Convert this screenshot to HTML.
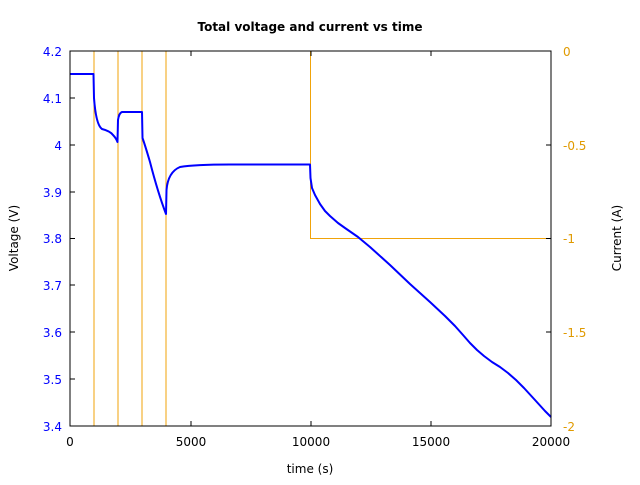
<!DOCTYPE html><html><head><style>body{margin:0;background:#fff}text{font-family:"DejaVu Sans","Liberation Sans",sans-serif;font-size:12px}</style></head><body>
<svg width="640" height="480" xmlns="http://www.w3.org/2000/svg">
<text x="310" y="31" text-anchor="middle" font-weight="bold">Total voltage and current vs time</text>
<g fill="none" stroke="#f0a30a" stroke-width="1">
<polyline points="70,51 94,51 94,426 94,51 118,51 118,426 118,51 142,51 142,426 142,51 166,51 166,426 166,51 310.5,51 310.5,238.5 551,238.5"/>
</g>
<path fill="none" stroke="#0000ff" stroke-width="2" stroke-linejoin="round" d="M70,74 L93.5,74 L94,98 Q96,125 102,129 Q110,131 113,135 Q116,138 117.5,142 L118,120 Q119,113 122,112 L142,112 L142.5,138 Q145,145 150,162 Q158,193 166,214 L166.5,190 Q168,172 180,167 Q195,164.5 230,164.5 L310,164.5 L310.5,178 L312,188 L315,195 L320,204 L325,211 L330,216 L338,223 L345,228 L358,237 L370,247 L390,265 L410,284 L430,302 L445,316 L455,326 L463,335 L470,343 L477,350 L484,356 L492,362 L500,367 L508,373 L516,380 L524,388 L535,400 L545,411 L551,417"/>
<rect x="70" y="51" width="481" height="375" fill="none" stroke="#000" stroke-width="1"/>
<g stroke="#000"><line x1="191" y1="426" x2="191" y2="421"/><line x1="311" y1="426" x2="311" y2="421"/><line x1="431" y1="426" x2="431" y2="421"/>
<line x1="191" y1="51" x2="191" y2="56"/><line x1="311" y1="51" x2="311" y2="56"/><line x1="431" y1="51" x2="431" y2="56"/>
<line x1="70" y1="98" x2="75" y2="98"/><line x1="70" y1="145" x2="75" y2="145"/><line x1="70" y1="192" x2="75" y2="192"/><line x1="70" y1="238.5" x2="75" y2="238.5"/><line x1="70" y1="285" x2="75" y2="285"/><line x1="70" y1="332" x2="75" y2="332"/><line x1="70" y1="379" x2="75" y2="379"/>
<line x1="551" y1="145" x2="546" y2="145"/><line x1="551" y1="238.5" x2="546" y2="238.5"/><line x1="551" y1="332" x2="546" y2="332"/></g>
<g fill="#000" text-anchor="middle"><text x="70" y="446">0</text><text x="191" y="446">5000</text><text x="311" y="446">10000</text><text x="431" y="446">15000</text><text x="551" y="446">20000</text><text x="310" y="473">time (s)</text></g>
<g fill="#0000ff" text-anchor="end"><text x="62" y="56">4.2</text><text x="62" y="103">4.1</text><text x="62" y="150">4</text><text x="62" y="197">3.9</text><text x="62" y="243">3.8</text><text x="62" y="290">3.7</text><text x="62" y="337">3.6</text><text x="62" y="384">3.5</text><text x="62" y="431">3.4</text></g>
<g fill="#e09a00"><text x="563" y="56">0</text><text x="563" y="150">-0.5</text><text x="563" y="243">-1</text><text x="563" y="337">-1.5</text><text x="563" y="431">-2</text></g>
<text transform="translate(18,238) rotate(-90)" text-anchor="middle">Voltage (V)</text>
<text transform="translate(621,238) rotate(-90)" text-anchor="middle">Current (A)</text>
</svg></body></html>
